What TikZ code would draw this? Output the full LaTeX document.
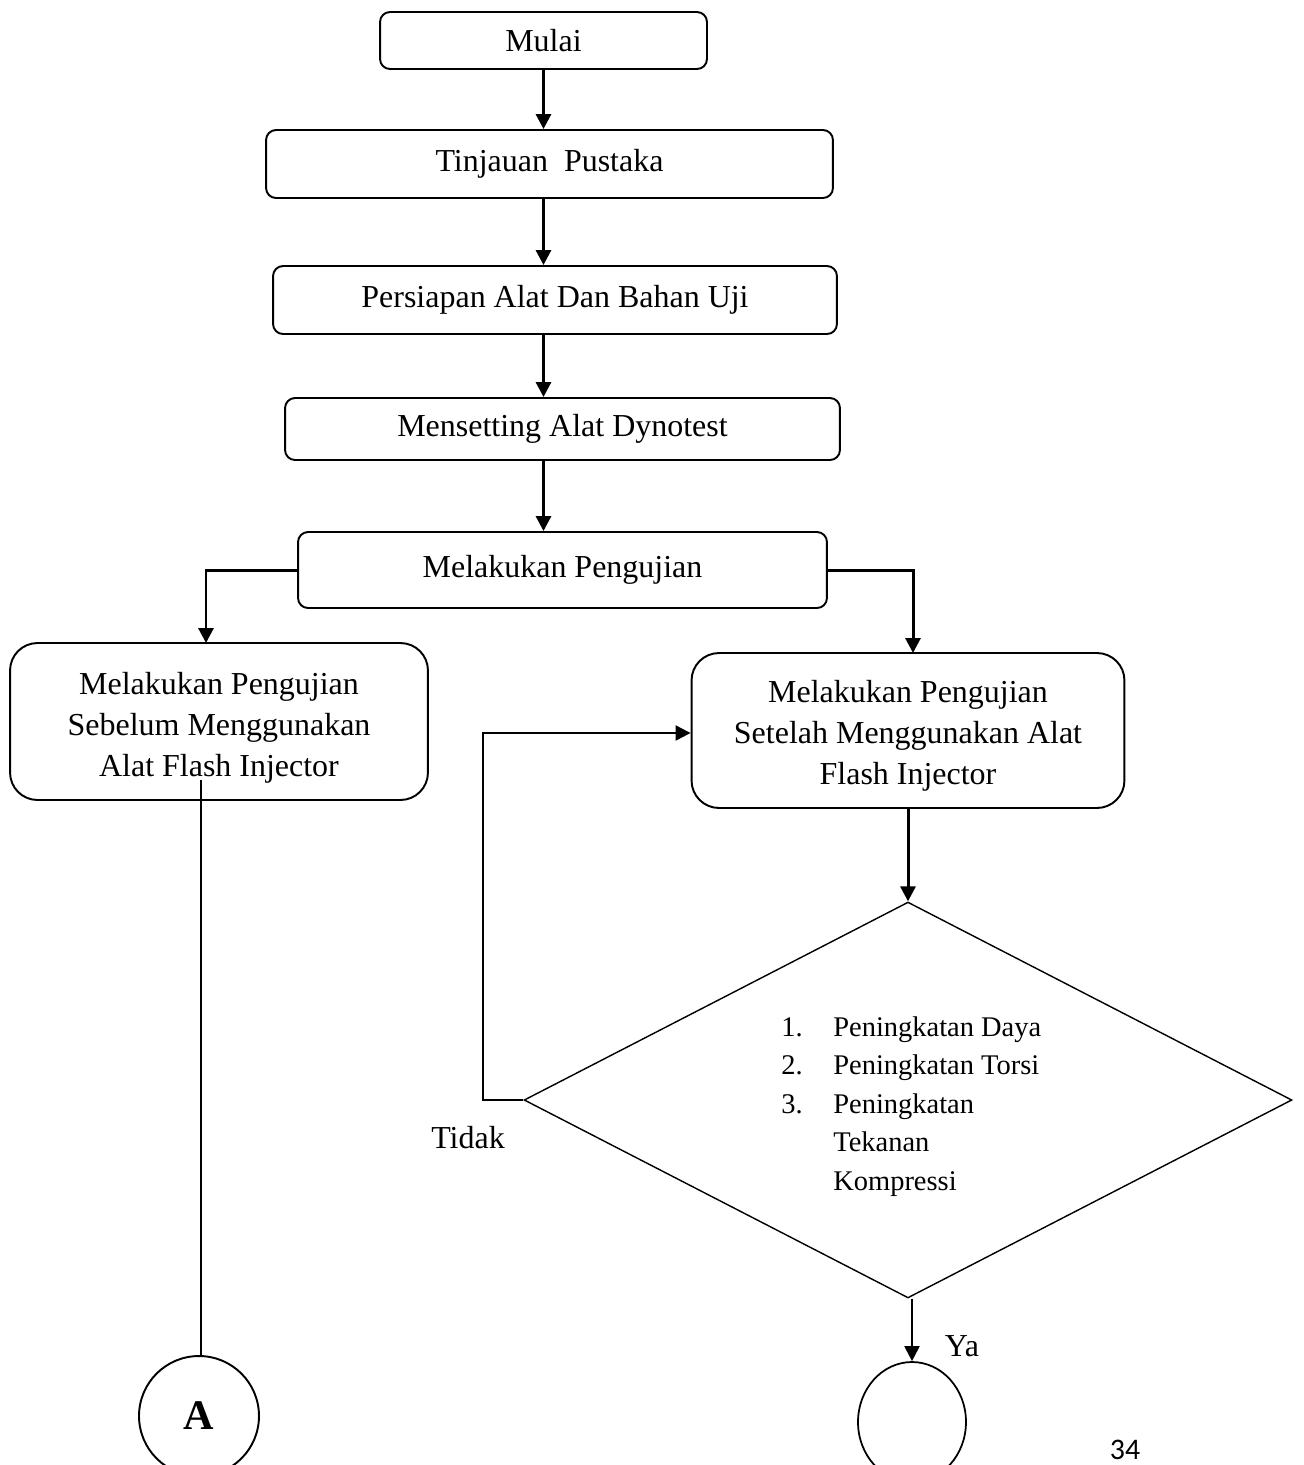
\documentclass[tikz,border=0pt]{standalone}
\usepackage{fontspec}
\setmainfont{Liberation Serif}
\setsansfont{Carlito}
\usetikzlibrary{shapes.geometric,arrows.meta}
\tikzset{
  box/.style={draw, rounded corners=0.2cm, line width=1.1pt, align=center, inner sep=0pt, font=\fontsize{18.2}{23.3}\selectfont},
  bigbox/.style={box, rounded corners=0.55cm},
  arr/.style={draw, line width=1.7pt, -{Triangle[length=0.3cm,width=0.3cm]}},
  thinarr/.style={arr, line width=1.2pt},
}
\begin{document}
\begin{tikzpicture}[x=0.02cm, y=-0.02cm]
\useasboundingbox (0,0) rectangle (1304,1465);
\clip (0,0) rectangle (1304,1465);

\node[box, minimum width=6.54cm, minimum height=1.14cm] (mulai) at (543.5,40.5) {Mulai};
\node[box, minimum width=11.34cm, minimum height=1.36cm] (tinjau) at (549.5,164) {Tinjauan\ \ Pustaka};
\node[box, minimum width=11.28cm, minimum height=1.36cm] (siap) at (555,300) {Persiapan Alat Dan Bahan Uji};
\node[box, minimum width=11.1cm, minimum height=1.24cm] (setting) at (562.5,429) {Mensetting Alat Dynotest};
\node[box, minimum width=10.58cm, minimum height=1.52cm] (uji) at (562.5,570) {Melakukan Pengujian};
\node[bigbox, minimum width=8.36cm, minimum height=3.14cm] (sebelum) at (219,721.5) {\rule{0pt}{0.68cm}Melakukan Pengujian\\Sebelum Menggunakan\\Alat Flash Injector};
\node[bigbox, minimum width=8.66cm, minimum height=3.1cm] (setelah) at (908,730.5) {\rule{0pt}{0.64cm}Melakukan Pengujian\\Setelah Menggunakan Alat\\Flash Injector};
\node[draw, diamond, line width=0.8pt, inner sep=0pt, minimum width=15.36cm, minimum height=7.92cm] (cond) at (908,1100) {};
\node[anchor=north west, inner sep=0pt, align=left, font=\fontsize{16.2}{21.9}\selectfont] (daftar) at (781,1016)
  {\makebox[1.04cm][l]{1.}Peningkatan Daya\\\makebox[1.04cm][l]{2.}Peningkatan Torsi\\\makebox[1.04cm][l]{3.}Peningkatan\\\hspace*{1.04cm}Tekanan\\\hspace*{1.04cm}Kompressi};
\node[font=\fontsize{18.2}{22}\selectfont] (tidak) at (468,1138) {Tidak};
\node[font=\fontsize{18.2}{22}\selectfont] (ya) at (962,1346) {Ya};
\node[draw, circle, line width=1.1pt, minimum size=2.4cm, inner sep=0pt, font=\bfseries\fontsize{24}{28}\selectfont] (cA) at (199,1416) {A};
\node[draw, ellipse, line width=1pt, minimum width=2.16cm, minimum height=2.4cm, inner sep=0pt] (cB) at (912,1422) {};
\node[font=\sffamily\fontsize{17}{20}\selectfont] (hal) at (1125,1450) {34};

\coordinate (masukkiri) at (206,643);
\coordinate (masukkanan) at (913,653);
\coordinate (balik) at (483,733);
\coordinate (garis) at (201,780);

\path[arr] (mulai.south) -- (mulai.south |- tinjau.north);
\path[arr] (tinjau.south -| mulai.south) -- (mulai.south |- siap.north);
\path[arr] (siap.south -| mulai.south) -- (mulai.south |- setting.north);
\path[arr] (setting.south -| mulai.south) -- (mulai.south |- uji.north);
\path[arr] (uji.west) -| (masukkiri);
\path[arr] (uji.east) -| (masukkanan);
\path[arr] (setelah.south) -- (cond.north);
\path[thinarr] (cond.west) -| (balik) -- (balik -| setelah.west);
\path[thinarr] (cond.south -| cB.north) -- (cB.north);
\path[draw, line width=1.4pt] (garis) -- (garis |- cA.north);
\end{tikzpicture}
\end{document}
